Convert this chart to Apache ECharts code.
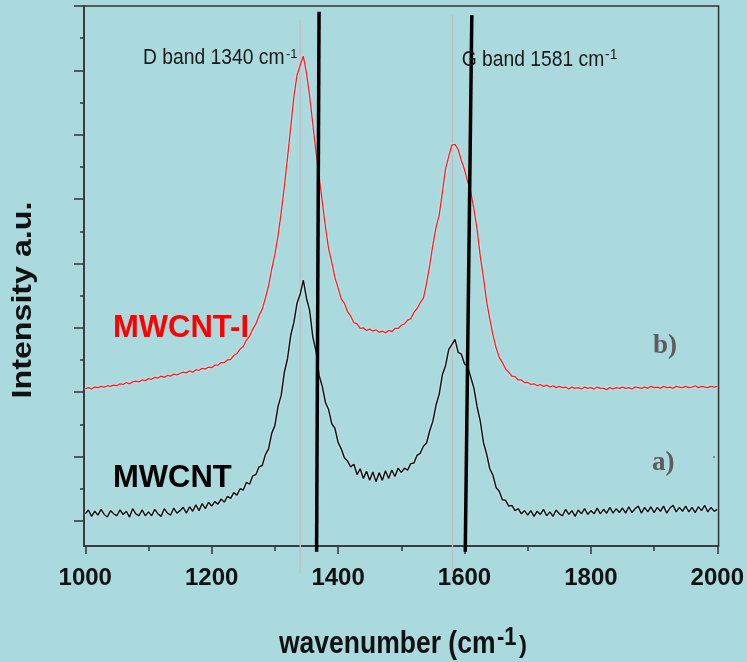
<!DOCTYPE html>
<html>
<head>
<meta charset="utf-8">
<script src="https://cdn.jsdelivr.net/npm/echarts@6/dist/echarts.min.js"></script>
<style>
  html, body { margin: 0; padding: 0; background: #aad9de; }
  #chart { width: 747px; height: 662px; }
</style>
</head>
<body>
<div id="chart"></div>
<script>
// Raman spectra sampled every 5 cm-1 from 1000 to 2000 cm-1 (intensity, a.u.)
const waveStart = 1000;
const waveStep = 5;

// b) MWCNT-I
const mwcntI = [
  2.05, 2.07, 2.05, 2.08, 2.07, 2.09, 2.08, 2.10, 2.09, 2.11,
  2.10, 2.13, 2.12, 2.15, 2.13, 2.16, 2.17, 2.16, 2.19, 2.18,
  2.21, 2.20, 2.23, 2.22, 2.25, 2.23, 2.26, 2.25, 2.28, 2.27,
  2.29, 2.31, 2.30, 2.33, 2.31, 2.35, 2.34, 2.37, 2.36, 2.39,
  2.38, 2.42, 2.42, 2.46, 2.46, 2.50, 2.51, 2.57, 2.60, 2.67,
  2.71, 2.81, 2.87, 2.98, 3.06, 3.19, 3.29, 3.46, 3.65, 3.91,
  4.14, 4.43, 4.79, 5.20, 5.64, 6.11, 6.58, 6.92, 7.08, 7.22,
  6.96, 6.60, 6.17, 5.73, 5.35, 4.96, 4.57, 4.23, 4.02, 3.78,
  3.62, 3.45, 3.38, 3.25, 3.18, 3.08, 3.06, 2.99, 3.00, 2.96,
  2.98, 2.95, 2.97, 2.93, 2.95, 2.92, 2.96, 2.94, 2.99, 2.99,
  3.04, 3.06, 3.12, 3.14, 3.24, 3.30, 3.39, 3.46, 3.69, 3.97,
  4.29, 4.56, 4.75, 5.10, 5.47, 5.66, 5.84, 5.85, 5.77, 5.60,
  5.46, 5.27, 5.11, 4.84, 4.53, 4.11, 3.78, 3.41, 3.14, 2.89,
  2.69, 2.54, 2.46, 2.36, 2.31, 2.25, 2.24, 2.19, 2.19, 2.15,
  2.15, 2.12, 2.13, 2.10, 2.12, 2.09, 2.11, 2.08, 2.10, 2.07,
  2.09, 2.07, 2.08, 2.05, 2.08, 2.06, 2.07, 2.05, 2.08, 2.06,
  2.07, 2.05, 2.08, 2.06, 2.06, 2.04, 2.07, 2.05, 2.07, 2.06,
  2.08, 2.06, 2.07, 2.05, 2.08, 2.07, 2.06, 2.08, 2.06, 2.09,
  2.07, 2.08, 2.06, 2.09, 2.07, 2.08, 2.06, 2.09, 2.08, 2.07,
  2.09, 2.07, 2.08, 2.10, 2.07, 2.09, 2.08, 2.07, 2.09, 2.08,
  2.09
];

// a) MWCNT
const mwcnt = [
  0.11, 0.17, 0.07, 0.15, 0.09, 0.18, 0.10, 0.06, 0.16, 0.11,
  0.08, 0.17, 0.10, 0.15, 0.06, 0.19, 0.11, 0.08, 0.17, 0.08,
  0.14, 0.08, 0.18, 0.11, 0.07, 0.19, 0.12, 0.09, 0.20, 0.12,
  0.16, 0.21, 0.12, 0.22, 0.15, 0.25, 0.16, 0.27, 0.19, 0.29,
  0.23, 0.30, 0.26, 0.34, 0.29, 0.38, 0.35, 0.44, 0.40, 0.50,
  0.48, 0.60, 0.57, 0.70, 0.72, 0.84, 0.86, 1.03, 1.12, 1.36,
  1.48, 1.78, 1.95, 2.31, 2.52, 2.88, 3.08, 3.38, 3.52, 3.74,
  3.46, 3.27, 2.86, 2.64, 2.26, 2.09, 1.84, 1.73, 1.51, 1.44,
  1.22, 1.12, 0.98, 0.93, 0.84, 0.88, 0.72, 0.81, 0.66, 0.77,
  0.63, 0.76, 0.61, 0.75, 0.63, 0.78, 0.66, 0.79, 0.69, 0.82,
  0.75, 0.82, 0.79, 0.89, 0.90, 1.02, 1.05, 1.16, 1.21, 1.40,
  1.55, 1.80, 1.97, 2.27, 2.41, 2.66, 2.74, 2.82, 2.62, 2.59,
  2.44, 2.40, 2.23, 2.06, 1.77, 1.55, 1.22, 1.04, 0.81, 0.71,
  0.52, 0.46, 0.33, 0.32, 0.23, 0.24, 0.16, 0.19, 0.11, 0.16,
  0.09, 0.16, 0.07, 0.15, 0.10, 0.18, 0.08, 0.14, 0.07, 0.17,
  0.11, 0.08, 0.18, 0.10, 0.16, 0.07, 0.17, 0.11, 0.19, 0.10,
  0.16, 0.11, 0.20, 0.11, 0.18, 0.12, 0.21, 0.12, 0.19, 0.13,
  0.20, 0.12, 0.22, 0.13, 0.19, 0.23, 0.12, 0.21, 0.14, 0.22,
  0.13, 0.21, 0.15, 0.23, 0.12, 0.20, 0.24, 0.14, 0.21, 0.15,
  0.23, 0.14, 0.21, 0.13, 0.22, 0.16, 0.24, 0.14, 0.21, 0.15,
  0.18
];

// Axis ticks
const xTicks = [1000, 1200, 1400, 1600, 1800, 2000];
const xMinorTicks = [1100, 1300, 1500, 1700, 1900];
const yTicks = [0, 1, 2, 3, 4, 5, 6, 7, 8];
const yMinorTicks = [0.5, 1.5, 2.5, 3.5, 4.5, 5.5, 6.5, 7.5];

// Band positions (cm-1)
const bandD = 1340;
const bandG = 1581;
const bandLineD = [[bandD, 7.78], [bandD, -0.81]];
const bandLineG = [[bandG, 7.86], [bandG, -0.87]];

// Hand-drawn shift markers (cm-1, a.u.)
const shiftLineD = [[1369.9, 7.91], [1366.0, -0.48]];
const shiftLineG = [[1611.6, 7.86], [1601.2, -0.48]];

const sans = "'Liberation Sans', Arial, Helvetica, sans-serif";
const serif = "'Liberation Serif', 'Times New Roman', serif";

const toPairs = (values) => values.map((v, i) => [waveStart + i * waveStep, v]);

const axisColor = '#333333';

const chart = echarts.init(document.getElementById('chart'), null, { renderer: 'canvas' });

const option = {
  backgroundColor: '#aad9de',
  animation: false,
  grid: {
    left: 84, right: 26, top: 6, bottom: 116,
    show: true, borderColor: axisColor, borderWidth: 1.5,
    backgroundColor: 'transparent'
  },
  xAxis: [
    {
      type: 'value', min: 998, max: 2002, position: 'bottom',
      axisLine: { show: true, onZero: false, lineStyle: { color: axisColor, width: 1.5 } },
      axisTick: { show: true, customValues: xTicks, length: 8, lineStyle: { color: axisColor, width: 1.5 } },
      axisLabel: {
        customValues: xTicks, margin: 20,
        formatter: (v) => String(v),
        fontFamily: sans, fontSize: 24, fontWeight: 'bold', color: '#111111'
      },
      splitLine: { show: false }
    },
    {
      type: 'value', min: 998, max: 2002, position: 'bottom',
      axisLine: { show: false, onZero: false },
      axisTick: { show: true, customValues: xMinorTicks, length: 5, lineStyle: { color: axisColor, width: 1.5 } },
      axisLabel: { show: false },
      splitLine: { show: false }
    }
  ],
  yAxis: [
    {
      type: 'value', min: -0.39, max: 8, position: 'left',
      axisLine: { show: true, onZero: false, lineStyle: { color: axisColor, width: 1.5 } },
      axisTick: { show: true, customValues: yTicks, length: 10, lineStyle: { color: axisColor, width: 1.5 } },
      axisLabel: { show: false },
      splitLine: { show: false }
    },
    {
      type: 'value', min: -0.39, max: 8, position: 'left',
      axisLine: { show: false, onZero: false },
      axisTick: { show: true, customValues: yMinorTicks, length: 4, lineStyle: { color: axisColor, width: 1.5 } },
      axisLabel: { show: false },
      splitLine: { show: false }
    }
  ],
  series: [
    {
      name: 'D band', type: 'line', data: bandLineD, symbol: 'none', clip: false, silent: true,
      lineStyle: { color: '#bfbfbf', width: 1.4 }, z: 1
    },
    {
      name: 'G band', type: 'line', data: bandLineG, symbol: 'none', clip: false, silent: true,
      lineStyle: { color: '#bfbfbf', width: 1.4 }, z: 1
    },
    {
      name: 'MWCNT-I', type: 'line', data: toPairs(mwcntI), symbol: 'none', z: 3,
      lineStyle: { color: '#ff1c1c', width: 1.3, shadowColor: 'rgba(255,255,255,0.85)', shadowBlur: 2 }
    },
    {
      name: 'MWCNT', type: 'line', data: toPairs(mwcnt), symbol: 'none', z: 3,
      lineStyle: { color: '#141414', width: 1.5, shadowColor: 'rgba(255,255,255,0.85)', shadowBlur: 2 }
    },
    {
      name: 'D shift', type: 'line', data: shiftLineD, symbol: 'none', clip: false, silent: true,
      lineStyle: { color: '#000000', width: 3.5 }, z: 5
    },
    {
      name: 'G shift', type: 'line', data: shiftLineG, symbol: 'none', clip: false, silent: true,
      lineStyle: { color: '#000000', width: 3.5 }, z: 5
    }
  ],
  graphic: {
    elements: [
      // band annotations
      { type: 'text', x: 143, y: 58.6, scaleY: 1.1, z: 10,
        style: { text: 'D band 1340 cm', fontFamily: sans, fontSize: 19.3, fill: '#1a1a1a', align: 'left', verticalAlign: 'middle' } },
      { type: 'text', x: 286, y: 54.5, z: 10,
        style: { text: '-1', fontFamily: sans, fontSize: 13, fill: '#1a1a1a', align: 'left', verticalAlign: 'middle' } },
      { type: 'text', x: 461.7, y: 60.3, scaleY: 1.1, z: 10,
        style: { text: 'G band 1581 cm', fontFamily: sans, fontSize: 19.3, fill: '#1a1a1a', align: 'left', verticalAlign: 'middle' } },
      { type: 'text', x: 605, y: 55, z: 10,
        style: { text: '-1', fontFamily: sans, fontSize: 14, fill: '#1a1a1a', align: 'left', verticalAlign: 'middle' } },
      // sample names
      { type: 'text', x: 113, y: 328.3, z: 10,
        style: { text: 'MWCNT-I', fontFamily: sans, fontSize: 31, fontWeight: 'bold', fill: '#ff0000', align: 'left', verticalAlign: 'middle' } },
      { type: 'text', x: 113, y: 478.3, z: 10,
        style: { text: 'MWCNT', fontFamily: sans, fontSize: 31, fontWeight: 'bold', fill: '#000000', align: 'left', verticalAlign: 'middle' } },
      { type: 'text', x: 653, y: 345.9, z: 10,
        style: { text: 'b)', fontFamily: serif, fontSize: 27, fontWeight: 'bold', fill: '#5c5c5c', align: 'left', verticalAlign: 'middle' } },
      { type: 'text', x: 652, y: 462.9, z: 10,
        style: { text: 'a)', fontFamily: serif, fontSize: 27, fontWeight: 'bold', fill: '#5c5c5c', align: 'left', verticalAlign: 'middle' } },
      { type: 'circle', shape: { cx: 714, cy: 457, r: 1 }, style: { fill: '#6a6a6a' }, z: 10 },
      // axis titles
      { type: 'text', x: 279, y: 644.5, scaleY: 1.15, z: 10,
        style: { text: 'wavenumber (cm', fontFamily: sans, fontSize: 26.5, fontWeight: 'bold', fill: '#111111', align: 'left', verticalAlign: 'middle' } },
      { type: 'text', x: 497, y: 638, scaleY: 1.15, z: 10,
        style: { text: '-1', fontFamily: sans, fontSize: 22, fontWeight: 'bold', fill: '#111111', align: 'left', verticalAlign: 'middle' } },
      { type: 'text', x: 519, y: 646.7, z: 10,
        style: { text: ')', fontFamily: sans, fontSize: 24, fontWeight: 'bold', fill: '#111111', align: 'left', verticalAlign: 'middle' } },
      { type: 'text', x: 23.5, y: 300, rotation: Math.PI / 2, scaleX: 1.15, z: 10,
        style: { text: 'Intensity a.u.', fontFamily: sans, fontSize: 28, fontWeight: 'bold', fill: '#111111', align: 'center', verticalAlign: 'middle' } }
    ]
  }
};

chart.setOption(option);
</script>
</body>
</html>
